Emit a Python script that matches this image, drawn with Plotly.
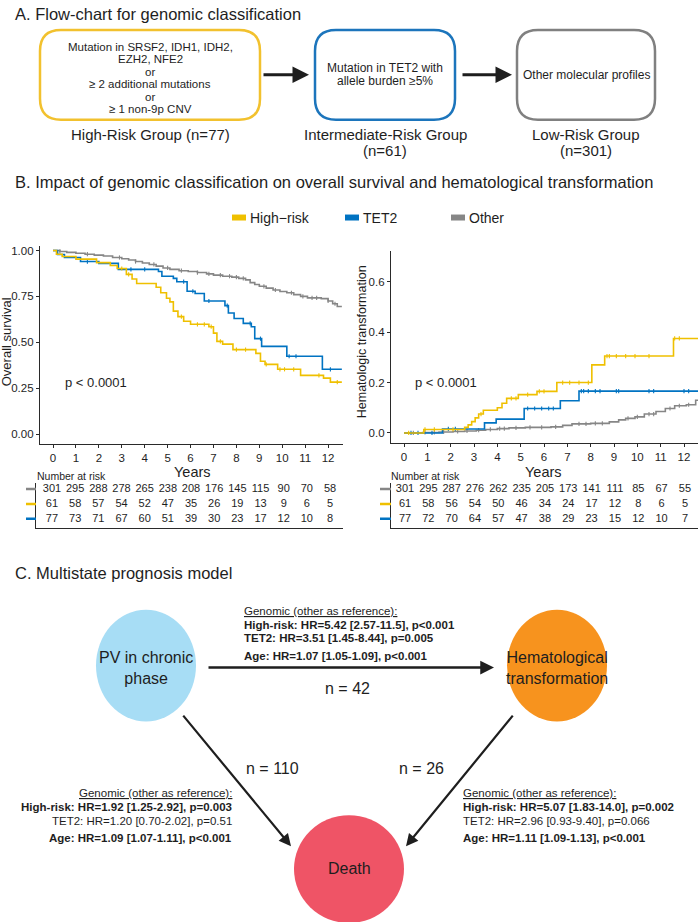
import plotly.graph_objects as go

W, H = 698, 922
def X(px): return px / W
def Y(py): return 1 - py / H

# ---------------- DATA ----------------
YEARS = list(range(13))
FOLLOW_END = 12.6

# Overall survival (Kaplan-Meier) step data
os_other_t = [0, 0.3, 0.6, 1.0, 1.4, 1.8, 2.2, 2.6, 3.0, 3.3, 3.6, 3.9, 4.2, 4.5, 4.8, 5.1, 5.5, 5.9, 6.3, 6.7, 7.0, 7.4, 7.8, 8.1, 8.4, 8.6, 8.8, 9.0, 9.3, 9.6, 9.9, 10.2, 10.5, 10.8, 11.1, 11.7, 12.0, 12.2, 12.4]
os_other_s = [1.0, 0.995, 0.99, 0.985, 0.98, 0.975, 0.97, 0.962, 0.955, 0.948, 0.94, 0.932, 0.924, 0.915, 0.905, 0.897, 0.89, 0.886, 0.88, 0.873, 0.866, 0.86, 0.855, 0.848, 0.84, 0.825, 0.815, 0.805, 0.795, 0.785, 0.777, 0.77, 0.76, 0.75, 0.742, 0.738, 0.725, 0.71, 0.695]
os_high_t = [0, 0.15, 0.4, 1.0, 1.9, 2.5, 2.8, 3.2, 3.45, 3.65, 4.5, 4.7, 4.95, 5.1, 5.25, 5.45, 5.7, 6.0, 6.8, 7.0, 7.15, 7.4, 7.85, 8.85, 9.05, 9.25, 9.8, 10.8, 11.8, 12.1]
os_high_s = [1.0, 0.98, 0.967, 0.953, 0.934, 0.918, 0.902, 0.87, 0.845, 0.82, 0.80, 0.77, 0.74, 0.72, 0.67, 0.64, 0.615, 0.598, 0.585, 0.55, 0.505, 0.49, 0.46, 0.44, 0.397, 0.38, 0.353, 0.32, 0.305, 0.283]
os_tet2_t = [0, 0.2, 0.5, 1.2, 2.0, 2.85, 4.6, 4.75, 5.25, 5.4, 5.85, 6.2, 6.6, 7.5, 7.65, 7.9, 8.3, 8.65, 8.8, 9.1, 10.2, 11.75]
os_tet2_s = [1.0, 0.978, 0.962, 0.94, 0.93, 0.897, 0.886, 0.86, 0.848, 0.83, 0.778, 0.766, 0.725, 0.70, 0.66, 0.63, 0.603, 0.585, 0.52, 0.478, 0.424, 0.353]
os_other_cens = [0.3, 1.5, 2.9, 3.6, 4.4, 5.0, 5.6, 6.3, 6.8, 7.3, 7.7, 8.0, 8.3, 9.2, 9.7, 10.4, 10.9, 11.3, 11.5, 12.0, 12.3]
os_high_cens = [3.0, 3.3, 5.6, 6.3, 6.6, 6.9, 7.3, 8.0, 8.4, 9.3, 9.9, 10.1, 10.5, 11.6, 12.4]
os_tet2_cens = [1.5, 3.4, 4.0, 5.7, 6.1, 6.8, 7.6, 8.6, 9.05, 10.3, 10.6, 12.1]

# Hematologic transformation (cumulative incidence) step data
ht_high_t = [0, 0.85, 2.6, 2.75, 2.9, 3.05, 3.2, 3.4, 4.0, 4.2, 4.4, 4.9, 5.7, 6.55, 8.05, 8.6, 11.55]
ht_high_v = [0, 0.014, 0.022, 0.032, 0.045, 0.06, 0.075, 0.09, 0.10, 0.118, 0.137, 0.152, 0.165, 0.20, 0.27, 0.305, 0.375]
ht_tet2_t = [0, 1.65, 3.45, 3.95, 5.15, 6.7, 7.5]
ht_tet2_v = [0, 0.016, 0.04, 0.055, 0.097, 0.128, 0.166]
ht_other_t = [0, 0.8, 1.5, 2.1, 2.6, 3.1, 3.5, 4.0, 4.5, 5.2, 6.3, 6.8, 7.2, 8.0, 8.8, 9.2, 9.5, 9.9, 10.3, 10.8, 11.2, 11.6, 12.1, 12.5]
ht_other_v = [0, 0.002, 0.004, 0.006, 0.008, 0.011, 0.014, 0.017, 0.02, 0.022, 0.024, 0.03, 0.036, 0.038, 0.044, 0.052, 0.058, 0.064, 0.075, 0.085, 0.097, 0.108, 0.112, 0.13]
ht_high_cens = [0.2, 0.9, 1.3, 2.1, 3.3, 4.6, 4.8, 5.3, 5.8, 6.0, 6.8, 7.1, 7.5, 7.9, 8.7, 8.8, 9.1, 9.5, 9.9, 10.5, 11.6, 11.8]
ht_tet2_cens = [0.3, 0.6, 1.2, 1.9, 2.2, 5.3, 5.6, 5.9, 6.2, 6.4, 7.6, 7.7, 7.9, 8.2, 8.4, 9.1, 9.2, 10.5, 10.7, 12.0, 12.2]
ht_other_cens = [0.4, 0.9, 1.3, 1.7, 2.3, 2.7, 3.2, 3.7, 4.1, 4.3, 4.8, 5.4, 5.9, 6.5, 7.5, 7.8, 8.2, 8.5, 9.6, 10.0, 10.5, 10.7, 11.4, 11.8, 12.2]

# Number at risk (rows as drawn: grey, yellow, blue)
risk_os_grey = [301, 295, 288, 278, 265, 238, 208, 176, 145, 115, 90, 70, 58]
risk_os_yellow = [61, 58, 57, 54, 52, 47, 35, 26, 19, 13, 9, 6, 5]
risk_os_blue = [77, 73, 71, 67, 60, 51, 39, 30, 23, 17, 12, 10, 8]
risk_ht_grey = [301, 295, 287, 276, 262, 235, 205, 173, 141, 111, 85, 67, 55]
risk_ht_yellow = [61, 58, 56, 54, 50, 46, 34, 24, 17, 12, 8, 6, 5]
risk_ht_blue = [77, 72, 70, 64, 57, 47, 38, 29, 23, 15, 12, 10, 7]

OS_TICKS = [0, 0.25, 0.5, 0.75, 1.0]
OS_TICKTEXT = ["0.00", "0.25", "0.50", "0.75", "1.00"]
HT_TICKS = [0, 0.2, 0.4, 0.6]
HT_TICKTEXT = ["0.0", "0.2", "0.4", "0.6"]

LEGEND_LABELS = ["High\u2212risk", "TET2", "Other"]

# ---------------- STYLE ----------------
YEL, BLU, GRY = "#EFC000", "#0073C2", "#868686"
TXT = "#1e1e1e"
FONT = "Liberation Sans, Arial, sans-serif"
NARROW = "Liberation Sans Narrow, Arial Narrow, Liberation Sans, sans-serif"

def step_at(ts, vs, t):
    v = vs[0]
    for ti, vi in zip(ts, vs):
        if ti <= t:
            v = vi
    return v

fig = go.Figure()

def add_curve(ts, vs, cens, color, xa, ya):
    fig.add_trace(go.Scatter(x=ts + [FOLLOW_END], y=vs + [vs[-1]], mode="lines",
                             line=dict(color=color, width=1.6, shape="hv"),
                             xaxis=xa, yaxis=ya, showlegend=False, hoverinfo="skip"))
    fig.add_trace(go.Scatter(x=cens, y=[step_at(ts, vs, c) for c in cens], mode="markers",
                             marker=dict(symbol="line-ns", size=3, line=dict(color=color, width=1.1)),
                             xaxis=xa, yaxis=ya, showlegend=False, hoverinfo="skip"))

add_curve(os_other_t, os_other_s, os_other_cens, GRY, "x", "y")
add_curve(os_tet2_t, os_tet2_s, os_tet2_cens, BLU, "x", "y")
add_curve(os_high_t, os_high_s, os_high_cens, YEL, "x", "y")
add_curve(ht_other_t, ht_other_v, ht_other_cens, GRY, "x2", "y2")
add_curve(ht_tet2_t, ht_tet2_v, ht_tet2_cens, BLU, "x2", "y2")
add_curve(ht_high_t, ht_high_v, ht_high_cens, YEL, "x2", "y2")

# risk tables
for rows, xa, ya in [((risk_os_grey, risk_os_yellow, risk_os_blue), "x3", "y3"),
                     ((risk_ht_grey, risk_ht_yellow, risk_ht_blue), "x4", "y4")]:
    for ri, row in enumerate(rows):
        fig.add_trace(go.Scatter(x=YEARS, y=[2 - ri] * len(YEARS), text=[str(v) for v in row],
                                 mode="text", textfont=dict(size=11, color=TXT, family=FONT),
                                 xaxis=xa, yaxis=ya, showlegend=False, hoverinfo="skip"))

axis_common = dict(showgrid=False, zeroline=False, showline=True, linecolor="#2a2a2a", linewidth=1.3,
                   ticks="outside", ticklen=3, tickcolor="#2a2a2a", tickwidth=1,
                   tickfont=dict(size=11.5, color=TXT, family=FONT))
table_axis = dict(showgrid=False, zeroline=False, showline=True, linecolor="#2a2a2a", linewidth=1.3,
                  ticks="", showticklabels=False)

fig.update_layout(
    width=W, height=H, margin=dict(l=0, r=0, t=0, b=0),
    paper_bgcolor="white", plot_bgcolor="white", showlegend=False,
    font=dict(family=FONT, color=TXT),
    xaxis=dict(domain=[X(40), X(343)], range=[-0.567, 12.65], tickvals=YEARS, anchor="y", **axis_common),
    yaxis=dict(domain=[Y(443), Y(245)], range=[-0.054, 1.022], tickvals=OS_TICKS, ticktext=OS_TICKTEXT,
               anchor="x", **axis_common),
    xaxis2=dict(domain=[X(391), X(698)], range=[-0.557, 12.6], tickvals=YEARS, anchor="y2", **axis_common),
    yaxis2=dict(domain=[Y(442), Y(250)], range=[-0.04, 0.72], tickvals=HT_TICKS, ticktext=HT_TICKTEXT,
                anchor="x2", **axis_common),
    xaxis3=dict(domain=[X(36), X(343)], range=[-0.69, 12.56], anchor="y3", **table_axis),
    yaxis3=dict(domain=[Y(527), Y(482)], range=[-0.6, 2.4], anchor="x3", **table_axis),
    xaxis4=dict(domain=[X(391), X(698)], range=[-0.6, 12.56], anchor="y4", **table_axis),
    yaxis4=dict(domain=[Y(527), Y(482)], range=[-0.6, 2.4], anchor="x4", **table_axis),
)

shapes = []
ann = []

def text(x, y, s, size=12, xanchor="center", family=FONT, color=TXT, angle=0, yanchor="middle"):
    ann.append(dict(x=X(x), y=Y(y), xref="paper", yref="paper", text=s, showarrow=False,
                    xanchor=xanchor, yanchor=yanchor, textangle=angle, borderpad=0,
                    font=dict(size=size, family=family, color=color)))

def arrow(x0, y0, x1, y1, width=2.5):
    ann.append(dict(x=X(x1), y=Y(y1), xref="paper", yref="paper", ax=x0 - x1, ay=y0 - y1,
                    axref="pixel", ayref="pixel", text="", showarrow=True, arrowhead=2,
                    arrowsize=1.1, arrowwidth=width, arrowcolor="#1e1e1e", standoff=0, startstandoff=0))

def rrect(x0, y0, x1, y1, r, color, width=2.5):
    p = (f"M {X(x0+r)},{Y(y0)} L {X(x1-r)},{Y(y0)} Q {X(x1)},{Y(y0)} {X(x1)},{Y(y0+r)} "
         f"L {X(x1)},{Y(y1-r)} Q {X(x1)},{Y(y1)} {X(x1-r)},{Y(y1)} L {X(x0+r)},{Y(y1)} "
         f"Q {X(x0)},{Y(y1)} {X(x0)},{Y(y1-r)} L {X(x0)},{Y(y0+r)} Q {X(x0)},{Y(y0)} {X(x0+r)},{Y(y0)} Z")
    shapes.append(dict(type="path", path=p, xref="paper", yref="paper", line=dict(color=color, width=width)))

def ellipse(cx, cy, rx, ry, color):
    shapes.append(dict(type="circle", xref="paper", yref="paper", x0=X(cx-rx), x1=X(cx+rx),
                       y0=Y(cy+ry), y1=Y(cy-ry), fillcolor=color, line=dict(width=0), layer="below"))

# ---------- Section A ----------
text(14, 12, "A. Flow-chart for genomic classification", 16.5, "left")
rrect(40, 28, 260, 118, 21, "#F2C12E")
rrect(315, 28, 455, 118, 21, "#1C75BC")
rrect(517, 28, 655, 118, 21, "#808080")
for i, line in enumerate(["Mutation in SRSF2, IDH1, IDH2,", "EZH2, NFE2", "or",
                          "\u2265 2 additional mutations", "or", "\u2265 1 non-9p CNV"]):
    text(150, [45, 57.5, 70, 82.5, 95, 107.5][i], line, 11.5, family=NARROW)
text(385, 66, "Mutation in TET2 with", 12, family=NARROW)
text(385, 79, "allele burden \u22655%", 12, family=NARROW)
text(586, 73, "Other molecular profiles", 12, family=NARROW)
arrow(262, 73, 309, 73, 3)
arrow(461, 73, 512, 73, 3)
text(150, 133, "High-Risk Group (n=77)", 15, family=NARROW)
text(385, 133, "Intermediate-Risk Group", 15, family=NARROW)
text(385, 149, "(n=61)", 15, family=NARROW)
text(586, 133, "Low-Risk Group", 15, family=NARROW)
text(586, 149, "(n=301)", 15, family=NARROW)

# ---------- Section B ----------
text(14, 180, "B. Impact of genomic classification on overall survival and hematological transformation", 16.5, "left")
for (x0, lab, col) in [(232, LEGEND_LABELS[0], YEL), (345, LEGEND_LABELS[1], BLU), (451, LEGEND_LABELS[2], GRY)]:
    shapes.append(dict(type="rect", xref="paper", yref="paper", x0=X(x0), x1=X(x0+14), y0=Y(219), y1=Y(213),
                       fillcolor=col, line=dict(width=0)))
    text(x0 + 17, 216, lab, 14, "left")
text(6, 341, "Overall survival", 13, angle=-90)
text(362, 341, "Hematologic transformation", 12.5, angle=-90)
text(192, 471, "Years", 14.5)
text(543, 471, "Years", 14.5)
ann.append(dict(x=0.44, y=0.283, xref="x", yref="y", text="p < 0.0001", showarrow=False,
                xanchor="left", font=dict(size=13, color=TXT)))
ann.append(dict(x=0.39, y=0.2, xref="x2", yref="y2", text="p < 0.0001", showarrow=False,
                xanchor="left", font=dict(size=13, color=TXT)))
text(36, 475, "Number at risk", 10.5, "left")
text(390, 475, "Number at risk", 10.5, "left")
for ri, col in enumerate([GRY, YEL, BLU]):
    shapes.append(dict(type="line", xref="paper", yref="y3", x0=X(26), x1=X(36), y0=2 - ri, y1=2 - ri,
                       line=dict(color=col, width=2.5)))
    shapes.append(dict(type="line", xref="paper", yref="y4", x0=X(380), x1=X(391), y0=2 - ri, y1=2 - ri,
                       line=dict(color=col, width=2.5)))

# ---------- Section C ----------
text(14, 572, "C. Multistate prognosis model", 16.5, "left")
ellipse(146, 665, 50, 56, "#A7DDF5")
ellipse(557, 665, 50, 56, "#F7931E")
ellipse(349, 869, 55, 54, "#EF5466")
text(146, 667, "PV in chronic<br>phase", 16, family=NARROW)
text(557, 667, "Hematological<br>transformation", 16, family=NARROW)
text(349, 868, "Death", 16, family=NARROW)
arrow(207, 667, 494, 667, 2.5)
arrow(182, 714, 291, 846, 2.2)
arrow(514, 714, 406, 846, 2.2)
text(347, 688, "n = 42", 16, family=NARROW)
text(272, 768, "n = 110", 16, family=NARROW)
text(421, 768, "n = 26", 16, family=NARROW)

UL = '<span style="text-decoration:underline">Genomic (other as reference):</span>'
top_lines = [(610, UL), (624, "<b>High-risk: HR=5.42 [2.57-11.5], p<0.001</b>"),
             (637.5, "<b>TET2: HR=3.51 [1.45-8.44], p=0.005</b>"), (655, "<b>Age: HR=1.07 [1.05-1.09], p<0.001</b>")]
for y, s in top_lines:
    text(243, y, s, 11.5, "left", family=NARROW)
left_lines = [(793, UL), (807, "<b>High-risk: HR=1.92 [1.25-2.92], p=0.003</b>"),
              (820.5, "TET2: HR=1.20 [0.70-2.02], p=0.51"), (838, "<b>Age: HR=1.09 [1.07-1.11], p<0.001</b>")]
for y, s in left_lines:
    text(233, y, s, 11.5, "right", family=NARROW)
right_lines = [(793, UL), (807, "<b>High-risk: HR=5.07 [1.83-14.0], p=0.002</b>"),
               (820.5, "TET2: HR=2.96 [0.93-9.40], p=0.066"), (838, "<b>Age: HR=1.11 [1.09-1.13], p<0.001</b>")]
for y, s in right_lines:
    text(462, y, s, 11.5, "left", family=NARROW)

fig.update_layout(shapes=shapes, annotations=ann)
fig.write_html("out.html", config={"displayModeBar": False})
